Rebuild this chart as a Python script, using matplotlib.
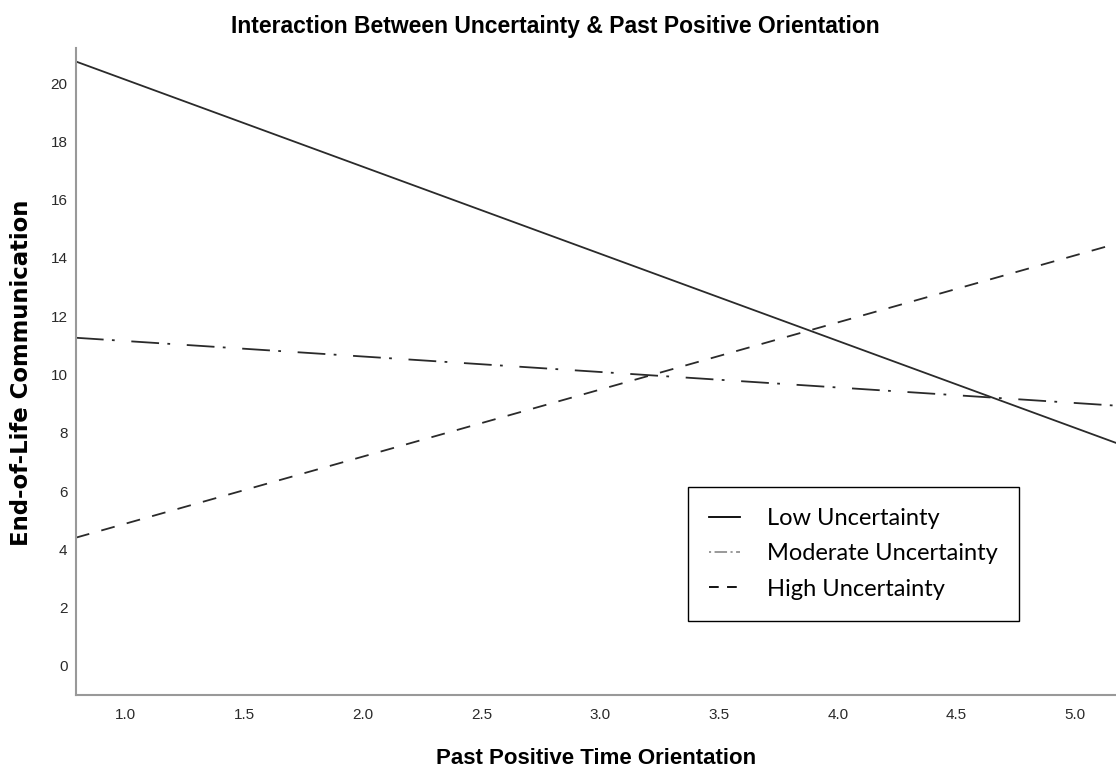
import matplotlib
matplotlib.use("Agg")
import matplotlib.pyplot as plt
from matplotlib.lines import Line2D

# Data
x_range = [0.79, 5.21]
low_uncertainty = [20.74, 7.54]
moderate_uncertainty = [11.26, 8.91]
high_uncertainty = [4.40, 14.57]
series_labels = ["Low Uncertainty", "Moderate Uncertainty", "High Uncertainty"]
x_ticks = [1.0, 1.5, 2.0, 2.5, 3.0, 3.5, 4.0, 4.5, 5.0]
y_ticks = [0, 2, 4, 6, 8, 10, 12, 14, 16, 18, 20]

plt.rcParams['lines.scale_dashes'] = False
fig = plt.figure(figsize=(11.16, 7.72), dpi=100)
ax = fig.add_axes([0.068, 0.0997, 0.94, 0.838])

lc = "#2a2a2a"
l1, = ax.plot(x_range, low_uncertainty, color=lc, lw=1.3, linestyle="-")
l2, = ax.plot(x_range, moderate_uncertainty, color=lc, lw=1.3)
l2.set_dashes((20, 6, 2, 12))
l3, = ax.plot(x_range, high_uncertainty, color=lc, lw=1.3)
l3.set_dashes((10, 9))

ax.set_xlim(0.79, 5.21)
ax.set_ylim(-1.0, 21.2)
ax.set_xticks(x_ticks)
ax.set_xticklabels([f"{t:.1f}" for t in x_ticks])
ax.set_yticks(y_ticks)
ax.tick_params(length=0, labelsize=11, colors="#2a2a2a")
for lab in ax.get_xticklabels() + ax.get_yticklabels():
    lab.set_fontfamily(["Liberation Sans", "DejaVu Sans"])
ax.tick_params(axis='x', pad=9.5)
ax.tick_params(axis='y', pad=6)

for s in ["top", "right"]:
    ax.spines[s].set_visible(False)
for s in ["left", "bottom"]:
    ax.spines[s].set_color("#999999")
    ax.spines[s].set_linewidth(1.5)

fig.text(0.498, 0.966, "Interaction Between Uncertainty & Past Positive Orientation",
         ha="center", va="center", fontsize=16.5, fontweight="bold",
         family=["Liberation Sans", "DejaVu Sans"])
fig.text(0.534, 0.018, "Past Positive Time Orientation", ha="center", va="center",
         fontsize=16, fontweight="bold", family=["Liberation Sans", "DejaVu Sans"])
fig.text(0.019, 0.5175, "End-of-Life Communication", ha="center", va="center",
         rotation=90, fontsize=16.4, fontweight="bold", family=["DejaVu Sans"])

# legend box
h1 = Line2D([], [], color="black", lw=1.3)
h2 = Line2D([], [], color="#888888", lw=1.2)
h2.set_dashes((1.5, 2.5, 9, 2.5))
h3 = Line2D([], [], color="black", lw=1.3)
h3.set_dashes((7, 6))
leg = ax.legend([h1, h2, h3], series_labels, loc="upper left",
                bbox_to_anchor=(688/1116, 1 - 487/772), bbox_transform=fig.transFigure,
                frameon=True, fancybox=False, edgecolor="black", framealpha=1,
                prop={"family": ["Lato", "DejaVu Sans"], "size": 17},
                handlelength=1.3, handletextpad=1.15, borderpad=0.9,
                labelspacing=0.6, borderaxespad=0)
leg.get_frame().set_linewidth(1.0)

fig.savefig("out.png", dpi=100)
